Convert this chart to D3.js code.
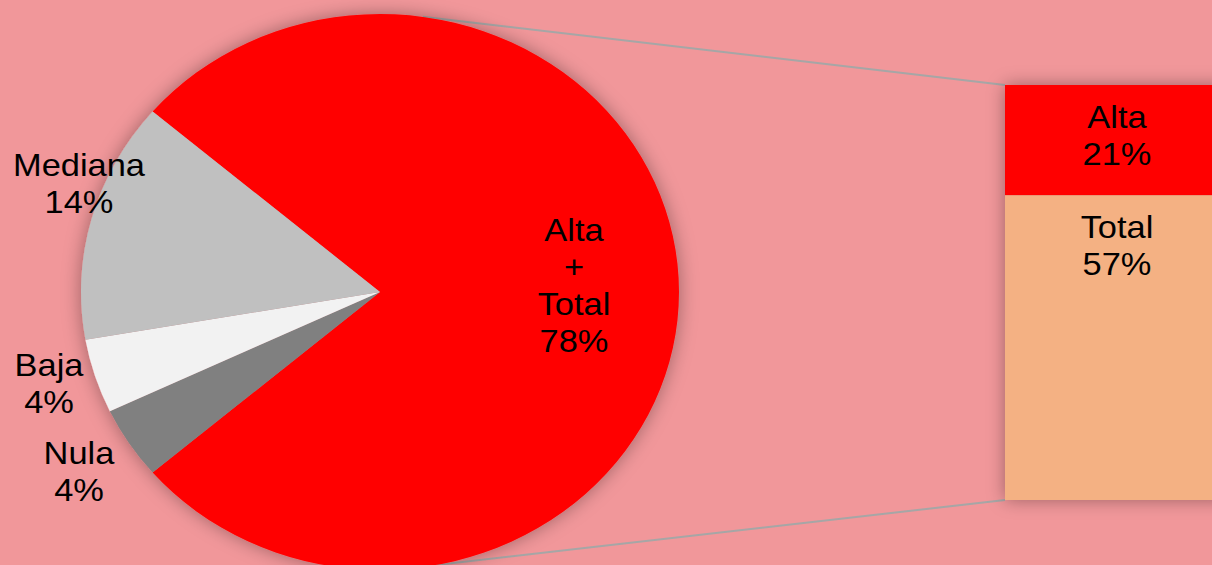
<!DOCTYPE html>
<html>
<head>
<meta charset="utf-8">
<title>Alta + Total</title>
<script src="https://cdn.jsdelivr.net/npm/d3@7"></script>
<style>
  body { margin: 0; background: #f1979a; overflow: hidden; }
  text { font-family: "Liberation Sans", Arial, sans-serif; fill: #000; }
</style>
</head>
<body>
<script>
// pie slices (clockwise from the big one)
var pieNames = ["Alta\n+\nTotal", "Nula", "Baja", "Mediana"];
var pieValues = [77.5, 4.2, 4.3, 14.0];
var pieColors = ["#ff0000", "#808080", "#f2f2f2", "#c0c0c0"];

// bar split of the big slice
var barNames = ["Alta", "Total"];
var barValues = [20.6, 56.9];
var barColors = ["#ff0000", "#f4b183"];

var W = 1212, H = 565;

var svg = d3.select("body").append("svg")
  .attr("width", W)
  .attr("height", H);

var defs = svg.append("defs");
var shadow = defs.append("filter")
  .attr("id", "shadow")
  .attr("x", "-20%").attr("y", "-20%")
  .attr("width", "140%").attr("height", "140%");
shadow.append("feDropShadow")
  .attr("dx", 0).attr("dy", 0)
  .attr("stdDeviation", 9)
  .attr("flood-color", "#000")
  .attr("flood-opacity", 0.35);

// pie geometry - the picture is a bit stretched sideways
var cx = 380, cy = 292, r = 278, sx = 299 / 278;
var deg = Math.PI / 180;

var pie = d3.pie().sort(null)
  .startAngle(-49.5 * deg)
  .endAngle(310.5 * deg);
var arcs = pie(pieValues);
var arc = d3.arc().innerRadius(0).outerRadius(r);

// bar scale
var barX = 1005, barW = 224;
var y = d3.scaleLinear()
  .domain([0, d3.sum(barValues)])
  .range([85, 500]);

// connector lines (drawn under the pie)
function edgePoint(a) {
  return [cx + sx * r * Math.sin(a), cy - r * Math.cos(a)];
}
var connectors = [
  [edgePoint(8.2 * deg), [barX, y(0)]],
  [edgePoint(169 * deg), [barX, y(d3.sum(barValues))]]
];
svg.selectAll(".conn")
  .data(connectors)
  .enter().append("line")
  .attr("class", "conn")
  .attr("x1", function(d) { return d[0][0]; })
  .attr("y1", function(d) { return d[0][1]; })
  .attr("x2", function(d) { return d[1][0]; })
  .attr("y2", function(d) { return d[1][1]; })
  .attr("stroke", "#a6a6a6")
  .attr("stroke-width", 2);

// PIE
var g = svg.append("g")
  .attr("transform", "translate(" + cx + "," + cy + ") scale(" + sx + ",1)");
g.append("g")
  .attr("filter", "url(#shadow)")
  .selectAll("path")
  .data(arcs)
  .enter().append("path")
  .attr("d", arc)
  .attr("fill", function(d, i) { return pieColors[i]; });

// BAR
var bar = svg.append("g").attr("filter", "url(#shadow)");
var acc = 0;
var segs = barValues.map(function(v, i) {
  var s = { name: barNames[i], value: v, y0: acc, y1: acc + v };
  acc += v;
  return s;
});
bar.selectAll("rect")
  .data(segs)
  .enter().append("rect")
  .attr("x", barX)
  .attr("y", function(d) { return y(d.y0); })
  .attr("width", barW)
  .attr("height", function(d) { return y(d.y1) - y(d.y0); })
  .attr("fill", function(d, i) { return barColors[i]; });

// LABELS
var lineH = 37;
// label spots for the pie slices (first baseline)
var pieLabelSpots = [[574, 241], [79, 464], [49, 376], [79, 176]];

function multiline(sel, lines, x, y0, size, scaleX) {
  var t = sel.append("text")
    .attr("text-anchor", "middle")
    .attr("font-size", size)
    .attr("transform", "translate(" + x + "," + y0 + ") scale(" + scaleX + ",1)");
  lines.forEach(function(l, k) {
    t.append("tspan").attr("x", 0).attr("y", k * lineH).text(l);
  });
}

arcs.forEach(function(d, i) {
  var lines = pieNames[i].split("\n").concat([Math.round(pieValues[i]) + "%"]);
  multiline(svg, lines, pieLabelSpots[i][0], pieLabelSpots[i][1], 32, sx);
});

segs.forEach(function(d) {
  multiline(svg, [d.name, Math.round(d.value) + "%"], barX + barW / 2, y(d.y0) + 43, 32, sx);
});
</script>
</body>
</html>
